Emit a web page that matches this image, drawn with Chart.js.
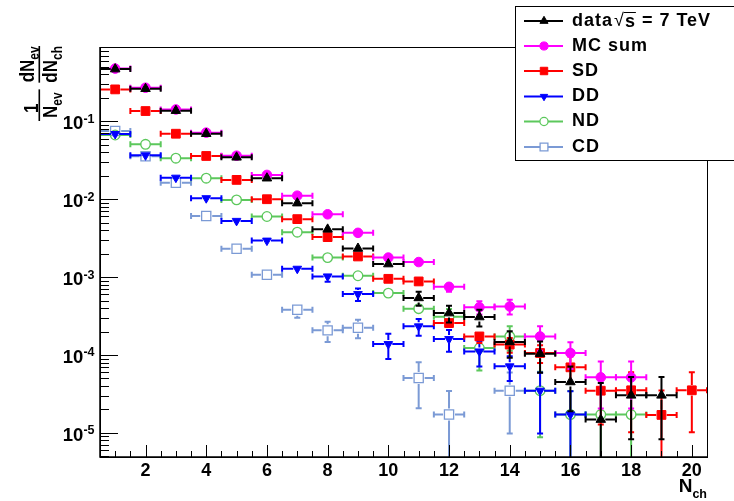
<!DOCTYPE html>
<html>
<head>
<meta charset="utf-8">
<script src="https://cdn.jsdelivr.net/npm/chart.js@4/dist/chart.umd.min.js"></script>
<style>
  html, body { margin: 0; padding: 0; background: #fff; }
  #wrap { width: 734px; height: 501px; }
</style>
</head>
<body>
<div id="wrap"><canvas id="nchChart" width="734" height="501"></canvas></div>
<script>
// charged multiplicity bins
const nch = [1, 2, 3, 4, 5, 6, 7, 8, 9, 10, 11, 12, 13, 14, 15, 16, 17, 18, 19, 20];
const binHalfWidth = 0.5;

// 1/N_ev dN_ev/dN_ch, one entry per N_ch bin (null = no point)
const dataVal = [0.468, 0.262, 0.137, 0.0693, 0.0345, 0.0186, 0.0089, 0.0041, 0.00233, 0.00147,
  0.00054, 0.000345, 0.000307, 0.000147, 0.000104, 4.5e-5, 1.48e-5, 3.03e-5, 3.03e-5, null];
const dataErr = [0.002, 0.0015, 0.001, 0.0006, 0.0004, 0.0003, 0.0002, 0.00018, 0.00014, 0.00012,
  0.00011, 8.3e-5, 7.5e-5, 5.5e-5, 4.5e-5, 2.6e-5, 2.9e-5, 2.2e-5, 2.2e-5, null];

const mcVal = [0.475, 0.27, 0.142, 0.0715, 0.0362, 0.0205, 0.0111, 0.0064, 0.0037, 0.00178,
  0.00156, 0.00075, 0.00041, 0.00042, 0.000173, 0.000106, 5.16e-5, 5.16e-5, null, null];
const mcErr = [0.002, 0.0015, 0.001, 0.0006, 0.0004, 0.0003, 0.0002, 0.00015, 0.0001, 5e-5,
  4e-5, 1e-4, 8e-5, 9e-5, 6e-5, 4e-5, 3.1e-5, 3.1e-5, null, null];

const sdVal = [0.257, 0.1355, 0.0693, 0.0359, 0.0177, 0.0100, 0.00555, 0.00326, 0.00184, 0.00095,
  0.00088, 0.000257, 0.000173, 0.000136, 0.000106, 6.94e-5, 3.48e-5, 3.52e-5, 1.7e-5, 3.52e-5];
const sdErr = [0.002, 0.001, 0.0006, 0.0004, 0.0003, 0.0002, 0.00012, 9e-5, 7e-5, 5e-5,
  4e-5, 3.3e-5, 3e-5, 2.9e-5, 2.7e-5, 2.6e-5, 2.2e-5, 2.5e-5, 1.8e-5, 2.5e-5];

const ddVal = [0.0687, 0.0366, 0.0189, 0.0103, 0.00527, 0.00294, 0.00128, 0.00102, 0.000605, 0.000138,
  0.000233, 0.00016, 0.000111, 7.15e-5, 3.48e-5, 1.72e-5, null, null, null, null];
const ddErr = [0.0006, 0.0004, 0.0003, 0.0002, 0.00015, 0.0001, 5e-5, 0.00015, 0.00011, 4.9e-5,
  5.7e-5, 5e-5, 4e-5, 2.5e-5, 2.5e-5, 1.7e-5, null, null, null, null];

const ndVal = [0.0667, 0.0507, 0.0336, 0.0186, 0.0098, 0.006, 0.00377, 0.00178, 0.00104, 0.000623,
  0.000393, 0.00031, 0.000123, 0.000173, 3.48e-5, 1.72e-5, 1.72e-5, 1.72e-5, null, null];
const ndErr = [0.0006, 0.0005, 0.0003, 0.0002, 0.00012, 8e-5, 6e-5, 4e-5, 3e-5, 3e-5,
  3e-5, 8e-5, 6e-5, 6e-5, 2.6e-5, 1.72e-5, 1.72e-5, 1.72e-5, null, null];

const cdVal = [0.0751, 0.0356, 0.0163, 0.0061, 0.00231, 0.00107, 0.000381, 0.000207, 0.000224, null,
  5.07e-5, 1.72e-5, null, 3.48e-5, null, null, null, null, null, null];
const cdErr = [0.0006, 0.0004, 0.0003, 0.0002, 8e-5, 0.0001, 8e-5, 6e-5, 6e-5, null,
  3e-5, 1.72e-5, null, 2.5e-5, null, null, null, null, null, null];

// axis ticks
const xTickValues = [2, 4, 6, 8, 10, 12, 14, 16, 18, 20];
const xTickLabels = ['2', '4', '6', '8', '10', '12', '14', '16', '18', '20'];
const yTickExponents = [-1, -2, -3, -4, -5];
const yTickLabels = ['-1', '-2', '-3', '-4', '-5'];

const FONT = '"Liberation Sans", Arial, Helvetica, sans-serif';

function pts(vals, errs) {
  return vals.map((v, i) => ({ x: nch[i], y: v, e: errs[i] }));
}

function series(label, vals, errs, color, style, radius, open, extra) {
  return Object.assign({
    label: label,
    data: pts(vals, errs),
    showLine: false,
    pointStyle: style,
    pointRadius: radius,
    pointHoverRadius: radius,
    borderColor: color,
    backgroundColor: open ? 'rgba(0,0,0,0)' : color,
    pointBorderWidth: open ? 1.3 : 1,
    markerGap: open ? radius - 0.5 : radius - 1,
    openMarker: open
  }, extra || {});
}

const datasets = [
  series('data', dataVal, dataErr, '#000000', 'triangle', 5.5, false),
  series('MC sum', mcVal, mcErr, '#ff00ff', 'circle', 4.8, false),
  series('SD', sdVal, sdErr, '#ff0000', 'rect', 6.2, false),
  series('DD', ddVal, ddErr, '#0000ff', 'triangle', 5, false, { pointRotation: 180 }),
  series('ND', ndVal, ndErr, '#5cc85c', 'circle', 4.8, true),
  series('CD', cdVal, cdErr, '#7b9ad5', 'rect', 6.5, true)
];

// horizontal (bin width) and vertical (stat) error bars, drawn just under each dataset's markers
const errorBars = {
  id: 'errorBars',
  beforeDatasetDraw(chart, args) {
    const ds = chart.data.datasets[args.index];
    const { ctx, chartArea: a } = chart;
    const xs = chart.scales.x, ys = chart.scales.y;
    const gap = ds.markerGap;
    const cap = 3;
    ctx.save();
    ctx.beginPath();
    ctx.rect(a.left, a.top, a.right - a.left, a.bottom - a.top);
    ctx.clip();
    ctx.strokeStyle = ds.borderColor;
    ctx.lineWidth = 2;
    ds.data.forEach(p => {
      if (p.y == null) return;
      const px = xs.getPixelForValue(p.x);
      const py = ys.getPixelForValue(p.y);
      const xl = xs.getPixelForValue(p.x - binHalfWidth);
      const xr = xs.getPixelForValue(p.x + binHalfWidth);
      ctx.beginPath();
      ctx.moveTo(xl, py); ctx.lineTo(px - gap, py);
      ctx.moveTo(px + gap, py); ctx.lineTo(xr, py);
      ctx.moveTo(xl, py - cap); ctx.lineTo(xl, py + cap);
      ctx.moveTo(xr, py - cap); ctx.lineTo(xr, py + cap);
      if (p.e) {
        const yt = ys.getPixelForValue(p.y + p.e);
        const lo = p.y - p.e;
        const yb = lo > 0 ? ys.getPixelForValue(lo) : a.bottom + 10;
        if (py - yt > gap + 1) {
          ctx.moveTo(px, py - gap); ctx.lineTo(px, yt);
          ctx.moveTo(px - cap, yt); ctx.lineTo(px + cap, yt);
        }
        if (yb - py > gap + 1) {
          ctx.moveTo(px, py + gap); ctx.lineTo(px, yb);
          if (lo > 0) { ctx.moveTo(px - cap, yb); ctx.lineTo(px + cap, yb); }
        }
      }
      ctx.stroke();
    });
    ctx.restore();
  }
};

// rotated title: 1/N_ev  dN_ev/dN_ch, glyphs stretched a little across the text line like ROOT does
function drawYTitle(ctx) {
  const big = 'bold 17px ' + FONT;
  const small = 'bold 12px ' + FONT;
  const s = 1.2;
  ctx.save();
  ctx.translate(39.5, 121);
  ctx.rotate(-Math.PI / 2);
  ctx.scale(1, s);
  ctx.fillStyle = '#000';
  ctx.textBaseline = 'alphabetic';
  ctx.textAlign = 'left';
  const piece = (u, v, main, sub) => {
    ctx.font = big; ctx.fillText(main, u, v / s);
    const w = ctx.measureText(main).width;
    if (sub) { ctx.font = small; ctx.fillText(sub, u + w, (v + 5) / s); }
  };
  const width = (main, sub) => {
    ctx.font = big; let w = ctx.measureText(main).width;
    if (sub) { ctx.font = small; w += ctx.measureText(sub).width; }
    return w;
  };
  // 1 / N_ev
  let u0 = 0;
  const d1 = width('N', 'ev') + 6;
  const n1 = width('1');
  piece(u0 + (d1 - n1) / 2 - 3, -2, '1');
  ctx.fillRect(u0, -1 / s, d1, 1.6 / s);
  piece(u0 + 3, 17.5, 'N', 'ev');
  // dN_ev / dN_ch
  const d2 = width('dN', 'ch');
  const n2 = width('dN', 'ev');
  const L = Math.max(d2, n2);
  u0 = 75 - L;
  piece(u0 + (L - n2) / 2, -6, 'dN', 'ev');
  ctx.fillRect(u0, -1 / s, L, 1.6 / s);
  piece(u0 + (L - d2) / 2, 17.5, 'dN', 'ch');
  ctx.restore();
}

function drawLegend(chart) {
  const ctx = chart.ctx;
  const x0 = 515.5, y0 = 6.5, x1 = 740, y1 = 160.5;
  ctx.save();
  ctx.fillStyle = '#fff';
  ctx.fillRect(x0, y0, x1 - x0, y1 - y0);
  ctx.strokeStyle = '#000';
  ctx.lineWidth = 1;
  ctx.strokeRect(x0, y0, x1 - x0, y1 - y0);
  const rowY = [21, 46, 71, 96.5, 121.5, 147];
  chart.data.datasets.forEach((ds, i) => {
    const y = rowY[i];
    ctx.strokeStyle = ds.borderColor;
    ctx.lineWidth = 2;
    ctx.beginPath(); ctx.moveTo(524, y); ctx.lineTo(563, y); ctx.stroke();
    ctx.fillStyle = ds.openMarker ? '#fff' : ds.borderColor;
    ctx.lineWidth = ds.openMarker ? 1.3 : 1;
    Chart.helpers.drawPoint(ctx, {
      pointStyle: ds.pointStyle,
      radius: ds.pointRadius * 0.85,
      rotation: ds.pointRotation || 0,
      borderWidth: ds.openMarker ? 1.3 : 1
    }, 544, y);
    ctx.fillStyle = '#000';
    ctx.font = 'bold 18px ' + FONT;
    ctx.letterSpacing = '1px';
    ctx.textBaseline = 'middle';
    ctx.textAlign = 'left';
    if (i === 0) {
      let x = 572;
      ctx.fillText('data', x, y);
      x += ctx.measureText('data').width + 1;
      ctx.font = '18px ' + FONT;
      ctx.fillText('\u221A', x, y);
      x += ctx.measureText('\u221A').width;
      ctx.font = 'bold 18px ' + FONT;
      const ws = ctx.measureText('s').width;
      ctx.fillText('s', x, y + 1);
      ctx.lineWidth = 1;
      ctx.strokeStyle = '#000';
      ctx.beginPath(); ctx.moveTo(x - 1, y - 8.5); ctx.lineTo(x + ws, y - 8.5); ctx.stroke();
      x += ws;
      ctx.fillText(' = 7 TeV', x, y);
    } else {
      ctx.fillText(ds.label, 572, y);
    }
    ctx.letterSpacing = '0px';
  });
  ctx.restore();
}

const frameAndAxes = {
  id: 'frameAndAxes',
  afterDraw(chart) {
    const { ctx, chartArea: a } = chart;
    const xs = chart.scales.x, ys = chart.scales.y;
    ctx.save();
    // frame
    ctx.strokeStyle = '#000';
    ctx.lineWidth = 1;
    ctx.strokeRect(a.left + 0.5, a.top + 0.5, a.right - a.left, a.bottom - a.top);
    ctx.lineWidth = 1.5;
    ctx.beginPath();
    ctx.moveTo(a.left, a.top); ctx.lineTo(a.left, a.bottom); ctx.lineTo(a.right, a.bottom);
    ctx.stroke();

    // x ticks every half unit, long ones at the labelled values
    ctx.lineWidth = 1;
    ctx.beginPath();
    for (let v = Math.ceil(xs.min * 2) / 2; v <= xs.max + 1e-9; v += 0.5) {
      const px = Math.round(xs.getPixelForValue(v)) + 0.5;
      const len = xTickValues.includes(v) ? 12 : 6;
      ctx.moveTo(px, a.bottom); ctx.lineTo(px, a.bottom - len);
    }
    ctx.stroke();

    // y ticks: decades long, 2..9 short
    ctx.beginPath();
    for (let d = -7; d <= 1; d++) {
      for (let k = 1; k <= 9; k++) {
        const v = k * Math.pow(10, d);
        if (v < ys.min || v > ys.max) continue;
        const py = Math.round(ys.getPixelForValue(v)) + 0.5;
        const len = k === 1 ? 18 : 9;
        ctx.moveTo(a.left, py); ctx.lineTo(a.left + len, py);
      }
    }
    ctx.stroke();

    // x tick labels
    ctx.fillStyle = '#000';
    ctx.font = 'bold 18px ' + FONT;
    ctx.textAlign = 'center';
    ctx.textBaseline = 'alphabetic';
    xTickValues.forEach((v, i) => {
      ctx.fillText(xTickLabels[i], xs.getPixelForValue(v), 476);
    });

    // y tick labels 10^n
    ctx.textAlign = 'left';
    yTickExponents.forEach((e, i) => {
      const py = ys.getPixelForValue(Math.pow(10, e));
      ctx.font = 'bold 12.5px ' + FONT;
      const ws = ctx.measureText(yTickLabels[i]).width;
      ctx.fillText(yTickLabels[i], 94.5 - ws, py + 1.5);
      ctx.font = 'bold 18.5px ' + FONT;
      const wb = ctx.measureText('10').width;
      ctx.fillText('10', 94.5 - ws - wb, py + 8);
    });

    // x title N_ch
    ctx.font = 'bold 12.5px ' + FONT;
    const wch = ctx.measureText('ch').width;
    ctx.fillText('ch', 707 - wch, 498);
    ctx.font = 'bold 19px ' + FONT;
    const wN = ctx.measureText('N').width;
    ctx.fillText('N', 707 - wch - wN, 492);

    drawYTitle(ctx);
    ctx.restore();
    drawLegend(chart);
  }
};

const nchChart = new Chart(document.getElementById('nchChart').getContext('2d'), {
  type: 'scatter',
  data: { datasets: datasets },
  options: {
    responsive: false,
    animation: false,
    events: [],
    layout: { padding: { left: 100, top: 47, right: 27, bottom: 44 } },
    plugins: { legend: { display: false }, tooltip: { enabled: false } },
    scales: {
      x: { type: 'linear', min: 0.5, max: 20.5, display: false },
      y: { type: 'logarithmic', min: 4.9e-6, max: 0.9, display: false }
    }
  },
  plugins: [errorBars, frameAndAxes]
});
</script>
</body>
</html>
